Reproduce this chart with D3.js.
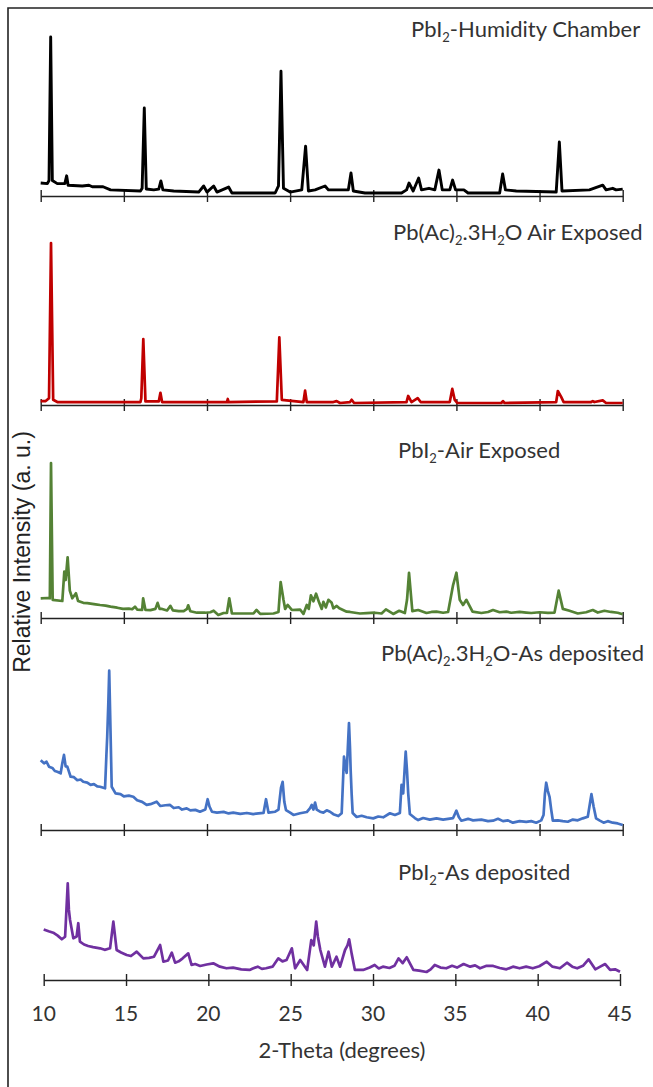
<!DOCTYPE html>
<html>
<head>
<meta charset="utf-8">
<script src="https://cdn.jsdelivr.net/npm/d3@7"></script>
<style>
  html, body { margin: 0; padding: 0; background: #fff; }
  svg { display: block; }
  .title, .tick-label, .x-label { font-family: Lato, "Open Sans", sans-serif; fill: #333; }
  .y-label { font-family: "Liberation Sans", Arial, sans-serif; fill: #222; }
</style>
</head>
<body>
<svg id="chart" width="653" height="1087"></svg>
<script>
// x ticks (2-theta, degrees)
const tickValues = [10, 15, 20, 25, 30, 35, 40, 45];

// panel titles, "_2" = subscript 2
const panelNames = [
  "PbI_2-Humidity Chamber",
  "Pb(Ac)_2.3H_2O Air Exposed",
  "PbI_2-Air Exposed",
  "Pb(Ac)_2.3H_2O-As deposited",
  "PbI_2-As deposited"
];
const panelColors = ["#000000", "#c00000", "#548235", "#4472c4", "#7030a0"];

// [2theta, relative intensity %]
const humidityPbI2 = [
  [10.0, 6.4], [10.4, 6], [10.5, 8], [10.6, 100], [10.7, 8], [11.0, 6], [11.45, 6], [11.56, 11],
  [11.65, 5], [12.5, 4.5], [12.9, 5], [13.1, 4], [13.75, 4], [14.2, 2], [16.0, 1.3], [16.1, 3],
  [16.23, 54.5], [16.35, 2.6], [16.8, 2], [17.1, 2.5], [17.23, 7.7], [17.35, 2], [18.0, 1.3],
  [19.5, 0.6], [19.8, 4.5], [20.0, 0.6], [20.4, 4.5], [20.6, 0.6], [21.3, 3.8], [21.5, 0],
  [24.1, 0], [24.3, 4.5], [24.45, 78], [24.6, 3], [25.0, 0.6], [25.7, 2], [25.93, 30], [26.1, 1.3],
  [26.5, 2], [27.1, 4.5], [27.3, 2], [27.6, 2], [28.5, 2], [28.66, 12.8], [28.8, 1.3], [29.5, 0],
  [31.7, 0], [32.0, 2], [32.15, 6.4], [32.4, 1.3], [32.73, 9.6], [32.9, 2], [33.35, 3], [33.7, 2],
  [33.95, 14.7], [34.15, 2], [34.6, 2], [34.77, 8.3], [34.95, 2], [35.45, 2], [35.7, 0], [37.6, 0],
  [37.78, 12.2], [37.95, 2], [38.6, 1.3], [41.0, 0.6], [41.19, 32.7], [41.35, 1.3], [43.0, 2],
  [43.8, 5], [44.0, 2], [44.4, 3], [44.6, 2], [45.0, 2.5]
];
const airPbAc = [
  [10.0, 1.2], [10.3, 1.2], [10.5, 3], [10.62, 100], [10.75, 2], [11.0, 0.6], [16.0, 0.6], [16.05, 3],
  [16.17, 40], [16.3, 1], [17.1, 1], [17.2, 6.4], [17.3, 0.6], [21.2, 0.6], [21.25, 2.5], [21.3, 0.6],
  [24.2, 1], [24.35, 41], [24.5, 2], [25.8, 0.6], [25.9, 7.7], [26.0, 0.6], [27.6, 0.6], [27.8, 1.2],
  [28.0, 0], [28.6, 0.6], [28.7, 2], [28.85, 0], [32.0, 0.6], [32.1, 4.4], [32.3, 0.6], [32.67, 3],
  [32.85, 0.6], [34.6, 0.6], [34.75, 8.8], [34.9, 1.9], [35.05, 0], [37.7, 0], [37.8, 1.2], [37.9, 0],
  [41.0, 0.6], [41.1, 7.5], [41.3, 3.8], [41.45, 0.6], [43.1, 0.6], [43.2, 1.2], [43.3, 0.6],
  [43.8, 1.6], [44.0, 0], [45.0, 0]
];
const airPbI2 = [
  [10.0, 11], [10.4, 11.2], [10.55, 11], [10.62, 100], [10.72, 10], [11.3, 9.2], [11.42, 28.5],
  [11.5, 23], [11.62, 38], [11.75, 16], [11.9, 11], [12.12, 14.3], [12.25, 9.2], [12.56, 8],
  [12.8, 7.8], [13.0, 7.5], [13.3, 7], [13.57, 6.6], [13.9, 6.2], [14.2, 5.5], [14.6, 4.8],
  [14.95, 4], [15.3, 4.2], [15.5, 3.8], [15.67, 5.5], [15.8, 3.6], [16.1, 3.4], [16.16, 11],
  [16.3, 3.3], [16.6, 3.2], [16.9, 4], [17.03, 8], [17.15, 4], [17.3, 4], [17.6, 3], [17.8, 6],
  [17.95, 3], [18.3, 2.5], [18.6, 2.5], [18.8, 4], [18.87, 6.4], [19.0, 2.5], [19.4, 1.5],
  [19.9, 1.5], [20.2, 1.8], [20.4, 2.8], [20.68, 0], [21.0, 1.3], [21.2, 1.3], [21.34, 11],
  [21.5, 1], [22.2, 1], [22.8, 1], [22.98, 3.3], [23.2, 0.7], [24.0, 1], [24.3, 2], [24.43, 21.7],
  [24.6, 10], [24.7, 4], [24.85, 6.6], [25.1, 3.3], [25.6, 3.6], [25.8, 0.7], [26.0, 6.6],
  [26.12, 4], [26.25, 13], [26.4, 9], [26.56, 14], [26.75, 8], [26.9, 4], [27.0, 8.7], [27.15, 5],
  [27.3, 10], [27.5, 8], [27.6, 4.4], [27.8, 6], [27.96, 4.4], [28.4, 2.2], [28.6, 2], [29.2, 1],
  [29.6, 1.2], [30.1, 1.5], [30.5, 1], [30.76, 3.7], [31.2, 0.7], [31.56, 2.8], [31.9, 1.3],
  [32.03, 10], [32.15, 27.8], [32.35, 2.6], [32.7, 3.3], [33.2, 1.3], [33.5, 2], [33.8, 2.2],
  [34.2, 1.5], [34.5, 2], [34.8, 19.7], [35.0, 27.8], [35.2, 10], [35.4, 6.6], [35.6, 10],
  [35.97, 2.2], [36.5, 1.3], [36.9, 2], [37.2, 3.3], [37.6, 1.8], [38.0, 2.2], [38.3, 1.5],
  [38.8, 2], [39.2, 1.6], [39.5, 1.3], [40.0, 1.8], [40.5, 1.4], [40.9, 1.6], [41.15, 16],
  [41.4, 4], [41.8, 2.8], [42.3, 1], [42.8, 1.8], [43.2, 3.3], [43.5, 1.6], [43.9, 2.8],
  [44.3, 2], [44.7, 1.5], [45.0, 0.5]
];
const asDepPbAc = [
  [10.0, 42], [10.2, 40], [10.35, 41], [10.5, 37.8], [10.7, 37], [10.85, 35], [11.0, 34.5],
  [11.2, 33.5], [11.3, 40], [11.4, 45.4], [11.5, 38], [11.6, 37.8], [11.8, 31.3], [12.0, 31],
  [12.2, 29], [12.4, 29.5], [12.56, 28], [12.8, 27.5], [13.0, 26], [13.2, 26.5], [13.4, 25],
  [13.57, 24.8], [13.87, 23.8], [13.95, 45], [14.0, 57.2], [14.07, 80], [14.12, 100], [14.2, 60],
  [14.27, 24.8], [14.5, 20.5], [14.8, 20], [15.0, 18.5], [15.3, 19], [15.57, 18.3], [15.8, 16],
  [16.1, 15], [16.37, 13], [16.6, 13.5], [16.97, 15.1], [17.2, 12.3], [17.5, 12.8], [17.78, 13],
  [18.0, 11], [18.3, 11.5], [18.5, 10], [18.78, 10.8], [19.0, 9.5], [19.3, 9.8], [19.58, 8.6],
  [19.9, 10], [20.04, 16.7], [20.15, 12], [20.3, 8.6], [20.6, 8], [21.0, 8.5], [21.3, 7.5],
  [21.58, 8], [22.0, 7.2], [22.4, 7.8], [22.78, 7.1], [23.1, 7.5], [23.4, 7.8], [23.55, 16.7],
  [23.7, 8], [24.1, 8.6], [24.3, 10], [24.45, 24], [24.55, 28], [24.65, 15], [24.75, 9.7],
  [25.0, 8], [25.2, 6.5], [25.6, 7.6], [26.0, 8.4], [26.2, 11], [26.3, 13], [26.4, 10], [26.5, 14.5],
  [26.6, 10], [26.8, 8.6], [27.0, 8], [27.2, 9.5], [27.4, 8.6], [27.6, 7], [27.9, 5.8], [28.1, 7.6],
  [28.24, 44.3], [28.3, 40], [28.4, 33.7], [28.47, 50], [28.54, 66], [28.6, 50], [28.64, 35.6],
  [28.7, 20], [28.76, 7.8], [29.0, 5.2], [29.3, 6], [29.6, 5], [30.0, 4.3], [30.3, 5.5], [30.6, 5],
  [31.0, 7.6], [31.3, 6.5], [31.6, 7.8], [31.7, 26], [31.8, 20.5], [31.88, 35], [31.95, 47.5],
  [32.03, 35], [32.1, 20.7], [32.2, 7.1], [32.5, 4.5], [32.7, 3.2], [33.0, 4.5], [33.4, 3.5],
  [33.8, 4.3], [34.2, 3.5], [34.5, 4], [34.8, 4.5], [35.0, 9.3], [35.15, 5], [35.3, 2.8], [35.7, 4],
  [36.0, 3], [36.5, 3.5], [36.9, 2.5], [37.2, 2.8], [37.5, 4], [37.8, 2.5], [38.1, 3], [38.4, 1.5],
  [38.8, 2.5], [39.2, 2], [39.5, 2.5], [39.8, 1.5], [40.1, 3], [40.24, 6.5], [40.32, 20],
  [40.4, 27.4], [40.5, 22], [40.6, 18.3], [40.7, 10], [40.8, 2.8], [41.1, 3], [41.4, 2.5],
  [41.7, 2.1], [42.0, 3.5], [42.3, 3], [42.6, 4.3], [42.9, 5.4], [43.0, 12], [43.12, 20],
  [43.25, 12], [43.4, 4.3], [43.6, 3], [43.85, 1.5], [44.1, 2.5], [44.4, 1.5], [44.7, 1], [45.0, 0]
];
const asDepPbI2 = [
  [10.0, 48], [10.3, 46], [10.58, 44.3], [10.85, 41], [11.1, 36.9], [11.3, 39.8], [11.46, 100],
  [11.53, 70], [11.6, 58.6], [11.8, 38], [12.0, 40], [12.1, 55], [12.2, 34.2], [12.45, 31],
  [12.7, 29.3], [13.0, 28], [13.42, 26.7], [13.7, 25], [14.03, 26.7], [14.23, 56.7], [14.43, 24.8],
  [14.7, 22], [15.04, 19.2], [15.3, 18], [15.65, 22.9], [16.05, 15.4], [16.4, 16], [16.7, 17.2],
  [17.07, 30.4], [17.27, 11.6], [17.55, 13], [17.78, 21.8], [17.98, 10.5], [18.2, 12],
  [18.44, 15.4], [18.78, 21], [18.98, 7.9], [19.2, 9], [19.5, 6.8], [19.9, 8.5], [20.3, 9.8],
  [20.7, 6], [21.1, 4.2], [21.5, 5], [22.0, 3], [22.5, 2.3], [22.7, 4], [23.0, 6], [23.25, 3.5],
  [23.5, 4.2], [23.9, 6], [24.25, 15.4], [24.5, 12], [24.75, 13.5], [25.07, 26.7], [25.27, 4.2],
  [25.58, 13.5], [26.0, 2.3], [26.25, 36], [26.4, 30], [26.55, 56.7], [26.65, 40], [26.8, 24.8],
  [27.08, 6], [27.3, 22.9], [27.5, 6], [27.78, 17.2], [28.0, 6], [28.3, 24.8], [28.45, 30],
  [28.55, 36.9], [28.7, 21], [28.9, 2.3], [29.4, 2.3], [29.8, 5], [30.1, 7.9], [30.35, 4],
  [30.6, 6], [31.0, 4.5], [31.3, 7], [31.55, 15.4], [31.8, 10], [32.05, 16.6], [32.45, 2.3],
  [32.8, 1.5], [33.25, 0], [33.5, 3], [33.75, 7.9], [34.1, 5], [34.45, 4.2], [34.8, 7], [35.1, 5],
  [35.5, 9], [35.9, 6], [36.2, 7.5], [36.5, 4.2], [36.9, 7], [37.3, 6.8], [37.7, 4.5], [38.1, 3],
  [38.5, 6], [38.9, 4.2], [39.3, 6], [39.7, 4.2], [40.1, 6.5], [40.55, 11.6], [40.9, 6],
  [41.35, 4.2], [41.78, 10.5], [42.1, 6], [42.4, 4.2], [42.75, 7], [43.09, 14.3], [43.5, 3],
  [43.8, 6], [44.1, 9], [44.4, 2.3], [44.7, 3], [45.0, 0.3]
];
const series = [humidityPbI2, airPbAc, airPbI2, asDepPbAc, asDepPbI2];

// panel layout (pixels): x range, y range for 0..100 %, axis line y, title anchor
const panels = [
  { x0: 40.7, x1: 622.7, base: 193, top: 37,    axis: 196, tx: 411, ty: 37 },
  { x0: 40.7, x1: 622.7, base: 403, top: 243,   axis: 405, tx: 393, ty: 240 },
  { x0: 40.7, x1: 622.7, base: 615, top: 463,   axis: 618, tx: 398, ty: 458 },
  { x0: 40.7, x1: 622.7, base: 825, top: 670.7, axis: 830, tx: 381, ty: 661 },
  { x0: 43.7, x1: 620,   base: 972, top: 883.3, axis: 980, tx: 398, ty: 880 }
];

const svg = d3.select("#chart");

// outer frame (left and top edges visible)
svg.append("path")
  .attr("d", "M8,1087 L8,8 L653,8")
  .attr("fill", "none")
  .attr("stroke", "#222")
  .attr("stroke-width", 1.6);

panels.forEach(function(p, i) {
  const x = d3.scaleLinear().domain([10, 45]).range([p.x0, p.x1]);
  const y = d3.scaleLinear().domain([0, 100]).range([p.base, p.top]);
  const g = svg.append("g").attr("class", "panel");

  // axis with ticks crossing the line
  const axisG = g.append("g")
    .attr("transform", "translate(0," + p.axis + ")")
    .call(d3.axisBottom(x).tickValues(tickValues).tickSizeOuter(0).tickFormat(""));
  axisG.select(".domain").attr("stroke", "#222").attr("stroke-width", 1.4);
  axisG.selectAll(".tick line")
    .attr("y1", -6).attr("y2", 6)
    .attr("stroke", "#222").attr("stroke-width", 1.4);

  g.append("path")
    .datum(series[i])
    .attr("fill", "none")
    .attr("stroke", panelColors[i])
    .attr("stroke-width", i === 0 ? 2.9 : 2.7)
    .attr("stroke-linejoin", "round")
    .attr("d", d3.line().x(d => x(d[0])).y(d => y(d[1])));

  // title with subscripts
  const t = g.append("text")
    .attr("class", "title")
    .attr("x", p.tx)
    .attr("y", p.ty)
    .attr("font-size", 22);
  panelNames[i].split(/(_\d)/).forEach(function(part) {
    if (!part) return;
    if (part[0] === "_") {
      t.append("tspan").attr("font-size", 13).attr("dy", 5).text(part.slice(1));
    } else {
      const s = t.append("tspan").text(part);
      if (t.selectAll("tspan").size() > 1) s.attr("dy", -5);
    }
  });

  // tick labels only under the last panel
  if (i === panels.length - 1) {
    g.selectAll(".tick-label")
      .data(tickValues)
      .enter()
      .append("text")
      .attr("class", "tick-label")
      .attr("x", d => x(d))
      .attr("y", 1021)
      .attr("text-anchor", "middle")
      .attr("font-size", 21)
      .text(d => d);
  }
});

svg.append("text")
  .attr("class", "x-label")
  .attr("x", 342)
  .attr("y", 1058)
  .attr("text-anchor", "middle")
  .attr("font-size", 22)
  .text("2-Theta (degrees)");

svg.append("text")
  .attr("class", "y-label")
  .attr("transform", "translate(30,552) rotate(-90)")
  .attr("text-anchor", "middle")
  .attr("font-size", 23)
  .text("Relative Intensity (a. u.)");
</script>
</body>
</html>
